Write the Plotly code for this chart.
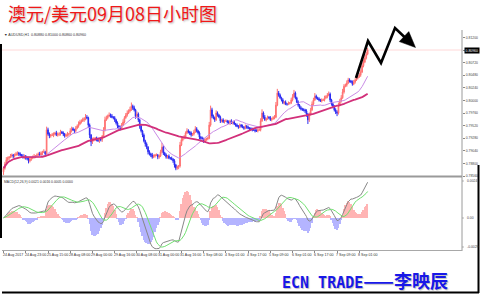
import numpy as np
import pandas as pd
import plotly.graph_objects as go

# ---------------- data ----------------
first_open = 0.7864
closes = [
    0.7871, 0.7879, 0.7887, 0.7890, 0.7892, 0.7894, 0.7896, 0.7894, 0.7896, 0.7898,
    0.7900, 0.7898, 0.7896, 0.7894, 0.7892, 0.7894, 0.7890, 0.7890, 0.7885, 0.7888,
    0.7890, 0.7892, 0.7894, 0.7894, 0.7896, 0.7898, 0.7896, 0.7900, 0.7902, 0.7902,
    0.7898, 0.7944, 0.7936, 0.7932, 0.7934, 0.7934, 0.7936, 0.7938, 0.7934, 0.7936,
    0.7936, 0.7940, 0.7938, 0.7936, 0.7932, 0.7934, 0.7936, 0.7936, 0.7942, 0.7946,
    0.7944, 0.7942, 0.7947, 0.7951, 0.7955, 0.7959, 0.7961, 0.7963, 0.7965, 0.7968,
    0.7967, 0.7953, 0.7934, 0.7921, 0.7925, 0.7927, 0.7928, 0.7925, 0.7923, 0.7927,
    0.7925, 0.7932, 0.7944, 0.7963, 0.7967, 0.7970, 0.7972, 0.7970, 0.7968, 0.7967,
    0.7963, 0.7957, 0.7951, 0.7949, 0.7947, 0.7953, 0.7959, 0.7967, 0.7972, 0.7976,
    0.7980, 0.7982, 0.7989, 0.7986, 0.7982, 0.7970, 0.7974, 0.7963, 0.7951, 0.7942,
    0.7934, 0.7923, 0.7917, 0.7911, 0.7902, 0.7898, 0.7896, 0.7892, 0.7894, 0.7896,
    0.7896, 0.7892, 0.7894, 0.7902, 0.7911, 0.7900, 0.7896, 0.7892, 0.7894, 0.7890,
    0.7890, 0.7888, 0.7885, 0.7877, 0.7871, 0.7873, 0.7875, 0.7915, 0.7925, 0.7928,
    0.7930, 0.7938, 0.7942, 0.7940, 0.7938, 0.7934, 0.7936, 0.7940, 0.7946, 0.7942,
    0.7938, 0.7930, 0.7928, 0.7927, 0.7923, 0.7925, 0.7927, 0.7928, 0.7953, 0.7982,
    0.7970, 0.7967, 0.7963, 0.7976, 0.7972, 0.7968, 0.7961, 0.7963, 0.7959, 0.7961,
    0.7961, 0.7959, 0.7957, 0.7961, 0.7957, 0.7959, 0.7955, 0.7953, 0.7951, 0.7949,
    0.7953, 0.7951, 0.7949, 0.7947, 0.7951, 0.7949, 0.7947, 0.7946, 0.7946, 0.7944,
    0.7944, 0.7942, 0.7942, 0.7944, 0.7944, 0.7961, 0.7976, 0.7968, 0.7963, 0.7965,
    0.7968, 0.7967, 0.7963, 0.7965, 0.7967, 0.7968, 0.7991, 0.8014, 0.8010, 0.8005,
    0.8001, 0.7995, 0.7997, 0.7993, 0.7993, 0.7995, 0.7995, 0.8001, 0.8007, 0.8014,
    0.8005, 0.7997, 0.7991, 0.7986, 0.7984, 0.7982, 0.7982, 0.7980, 0.7974, 0.7963,
    0.7974, 0.7982, 0.7993, 0.8001, 0.8008, 0.8005, 0.8003, 0.8001, 0.7999, 0.8001,
    0.8001, 0.8005, 0.8007, 0.8010, 0.8012, 0.8001, 0.7993, 0.7989, 0.7982, 0.7978,
    0.7976, 0.7991, 0.7999, 0.8005, 0.8016, 0.8027, 0.8029, 0.8033, 0.8039, 0.8037,
    0.8035, 0.8031, 0.8035, 0.8039, 0.8043, 0.8045, 0.8048, 0.8054, 0.8066, 0.8073,
    0.8081, 0.8088, 0.8096,
]
upper_wick_pips = [
    3, 4, 5, 3, 2, 4, 3, 2, 3, 4, 3, 2, 3, 2, 4, 3, 2, 3, 2, 3,
    2, 3, 4, 2, 3, 3, 4, 3, 2, 5, 2, 6, 4, 3, 2, 4, 3, 2, 4, 3,
    3, 4, 2, 3, 2, 3, 4, 2, 5, 4, 3, 2, 4, 3, 5, 4, 3, 4, 3, 6,
    4, 2, 3, 2, 4, 3, 2, 3, 4, 2, 3, 2, 5, 6, 4, 3, 5, 3, 4, 2,
    3, 2, 3, 2, 3, 4, 5, 3, 4, 5, 3, 6, 7, 3, 4, 2, 5, 3, 2, 3,
    2, 3, 2, 3, 2, 3, 2, 4, 3, 2, 3, 2, 3, 4, 8, 3, 2, 3, 2, 3,
    2, 3, 2, 3, 2, 3, 2, 6, 5, 3, 4, 3, 5, 3, 2, 3, 2, 4, 5, 3,
    2, 3, 2, 3, 2, 3, 2, 3, 6, 8, 4, 3, 2, 5, 3, 2, 3, 2, 3, 2,
    3, 2, 3, 2, 3, 2, 3, 2, 3, 2, 3, 2, 3, 2, 3, 2, 3, 2, 3, 2,
    3, 2, 3, 2, 3, 5, 7, 3, 4, 2, 3, 2, 3, 2, 3, 4, 6, 8, 4, 3,
    2, 3, 2, 3, 2, 3, 2, 4, 5, 6, 3, 2, 3, 2, 3, 2, 3, 2, 3, 2,
    3, 4, 5, 4, 6, 3, 2, 3, 2, 3, 2, 4, 3, 4, 5, 3, 2, 3, 2, 3,
    3, 5, 4, 5, 6, 4, 3, 5, 4, 3, 2, 3, 4, 3, 4, 3, 4, 5, 6, 5,
    6, 5, 4,
]
lower_wick_pips = [
    6, 3, 2, 3, 4, 2, 3, 4, 3, 2, 3, 4, 2, 3, 3, 4, 3, 4, 5, 3,
    3, 2, 3, 4, 2, 3, 2, 3, 4, 2, 5, 3, 3, 4, 3, 2, 4, 3, 2, 3,
    4, 3, 2, 4, 3, 2, 3, 4, 2, 3, 2, 4, 3, 2, 3, 2, 3, 2, 4, 3,
    3, 5, 6, 8, 4, 3, 4, 3, 2, 4, 3, 4, 2, 3, 2, 3, 2, 3, 2, 3,
    4, 3, 4, 5, 4, 3, 2, 3, 2, 3, 2, 3, 2, 4, 3, 5, 3, 4, 5, 3,
    4, 3, 5, 4, 5, 3, 4, 3, 2, 3, 2, 4, 3, 2, 3, 4, 2, 3, 3, 2,
    3, 2, 4, 5, 4, 3, 4, 3, 2, 3, 2, 3, 2, 3, 4, 3, 2, 3, 2, 3,
    3, 4, 3, 2, 4, 3, 2, 3, 2, 3, 4, 3, 4, 2, 3, 2, 4, 3, 2, 3,
    2, 3, 2, 4, 2, 3, 2, 3, 2, 3, 2, 3, 2, 3, 2, 3, 2, 3, 2, 3,
    2, 3, 2, 3, 2, 3, 2, 3, 2, 3, 2, 3, 2, 3, 2, 3, 2, 2, 3, 2,
    3, 2, 3, 2, 3, 2, 3, 2, 3, 2, 3, 2, 3, 2, 3, 2, 3, 4, 5, 8,
    4, 3, 2, 3, 2, 3, 2, 3, 2, 3, 2, 3, 2, 3, 2, 4, 3, 4, 3, 4,
    6, 3, 2, 3, 2, 3, 2, 3, 2, 3, 2, 3, 2, 3, 2, 3, 2, 3, 2, 3,
    2, 3, 2,
]
date_labels = [
    "24 Aug 2017", "24 Aug 23:00", "25 Aug 15:00", "28 Aug 08:00", "29 Aug 00:00",
    "29 Aug 16:00", "30 Aug 08:00", "31 Aug 00:00", "31 Aug 16:00", "1 Sep 08:00",
    "4 Sep 01:00", "4 Sep 17:00", "5 Sep 09:00", "6 Sep 01:00", "6 Sep 17:00",
    "7 Sep 09:00", "8 Sep 01:00",
]
bars_per_label = 16
price_ticks = [0.78560, 0.78800, 0.79040, 0.79280, 0.79520, 0.79760, 0.80000,
               0.80240, 0.80480, 0.80720, 0.80960, 0.81200]
macd_window_labels = ["0.0024", "0.00", "-0.0029"]
title_text = "澳元/美元09月08日小时图"
footer_ascii = "ECN TRADE"
footer_cjk = "——李映辰"
symbol = "AUDUSD,H1"

# ---------------- derived series ----------------
pip = 0.0001
c = pd.Series(closes, dtype=float)
o = c.shift(1).fillna(first_open)
h = np.maximum(o, c) + np.array(upper_wick_pips) * pip
l = np.minimum(o, c) - np.array(lower_wick_pips) * pip
x = np.arange(len(c))

ma_fast = c.rolling(20, min_periods=1).mean()
ma_slow = c.rolling(55, min_periods=1).mean()
ema12 = c.ewm(span=12, adjust=False).mean()
ema26 = c.ewm(span=26, adjust=False).mean()
macd = ema12 - ema26
signal = macd.rolling(9, min_periods=1).mean()
osma = macd - signal
hist = osma * 1.5

W, H = 480, 297
def PX(v):
    return v / W
def PY(v):
    return 1 - v / H

fig = go.Figure()

fig.add_trace(go.Candlestick(
    x=x, open=o, high=h, low=l, close=c, xaxis="x", yaxis="y",
    increasing=dict(line=dict(color="#FF7070", width=1), fillcolor="#FF8E8E"),
    decreasing=dict(line=dict(color="#2C2CF2", width=1), fillcolor="#2C2CF2"),
    whiskerwidth=0, showlegend=False, hoverinfo="skip",
))
fig.add_trace(go.Scatter(x=x, y=ma_fast, mode="lines", xaxis="x", yaxis="y",
                         line=dict(color="#C98BE6", width=1), showlegend=False, hoverinfo="skip"))
fig.add_trace(go.Scatter(x=x, y=ma_slow, mode="lines", xaxis="x", yaxis="y",
                         line=dict(color="#D2307A", width=1.8), showlegend=False, hoverinfo="skip"))

hist_colors = ["#FFB4B4" if v >= 0 else "#B4B4FF" for v in hist]
fig.add_trace(go.Bar(x=x, y=hist, xaxis="x2", yaxis="y2", width=1.0,
                     marker=dict(color=hist_colors, line=dict(width=0)),
                     showlegend=False, hoverinfo="skip"))
fig.add_trace(go.Scatter(x=x, y=macd, mode="lines", xaxis="x2", yaxis="y2",
                         line=dict(color="#878787", width=1), showlegend=False, hoverinfo="skip"))
fig.add_trace(go.Scatter(x=x, y=signal, mode="lines", xaxis="x2", yaxis="y2",
                         line=dict(color="#70E070", width=1), showlegend=False, hoverinfo="skip"))

xr = [-1.1, 329.9]
xdom = [PX(2), PX(462)]
macd_per_px = 0.0000588
fig.update_layout(
    width=W, height=H, margin=dict(l=0, r=0, t=0, b=0),
    paper_bgcolor="white", plot_bgcolor="white", bargap=0,
    xaxis=dict(domain=xdom, range=xr, anchor="y", showticklabels=False, showgrid=False,
               zeroline=False, showline=False, ticks="", rangeslider=dict(visible=False)),
    yaxis=dict(domain=[PY(177), PY(30)], range=[0.78541, 0.81341], side="right", anchor="x",
               tickvals=price_ticks, ticktext=[f"{v:.5f}" for v in price_ticks],
               ticks="outside", ticklen=2, tickcolor="#888", tickwidth=0.6,
               tickfont=dict(family="Liberation Sans", size=3.4, color="#444"),
               showgrid=False, zeroline=False, showline=False),
    xaxis2=dict(domain=xdom, range=xr, anchor="y2", matches="x",
                tickvals=[k * bars_per_label for k in range(len(date_labels))],
                showticklabels=False, ticks="outside", ticklen=2, tickcolor="#888", tickwidth=0.6,
                showgrid=False, zeroline=False, showline=False),
    yaxis2=dict(domain=[PY(250), PY(178)],
                range=[-(250 - 218) * macd_per_px, (218 - 178) * macd_per_px], anchor="x2",
                showticklabels=False, showgrid=False, zeroline=False, showline=False),
)

shapes = []
def pline(x0, y0, x1, y1, color, width):
    shapes.append(dict(type="line", xref="paper", yref="paper", x0=PX(x0), y0=PY(y0),
                       x1=PX(x1), y1=PY(y1), line=dict(color=color, width=width)))

# current price line
shapes.append(dict(type="line", xref="paper", yref="y", x0=PX(2), x1=PX(462),
                   y0=closes[-1], y1=closes[-1], line=dict(color="#FFD8D8", width=1), layer="below"))
pline(462, 30, 462, 251, "#9A9A9A", 1)
pline(2, 176.6, 462, 176.6, "#9A9A9A", 2)
pline(2, 250.5, 462, 250.5, "#A8A8A8", 1)
for yy in (181, 218, 247):
    pline(462, yy, 464, yy, "#888", 0.6)
# outer black frame
pline(1, 44, 1, 238, "#000000", 2)
pline(2, 292.5, 479, 292.5, "#000000", 2)
pline(478.5, 165, 478.5, 293, "#000000", 2)

# hand drawn arrow
pts = [(356, 78), (368, 41), (381, 63), (395, 28), (405, 37.5)]
path = "M " + " L ".join(f"{PX(a):.5f} {PY(b):.5f}" for a, b in pts)
shapes.append(dict(type="path", xref="paper", yref="paper", path=path,
                   line=dict(color="black", width=2.6)))
head = [(415.5, 47.5), (399.3, 41.6), (408.8, 31.6)]
hpath = "M " + " L ".join(f"{PX(a):.5f} {PY(b):.5f}" for a, b in head) + " Z"
shapes.append(dict(type="path", xref="paper", yref="paper", path=hpath,
                   line=dict(color="black", width=0.5), fillcolor="black"))
fig.update_layout(shapes=shapes)

ann = []
ann.append(dict(text=title_text, xref="paper", yref="paper", x=PX(6), y=PY(13),
                xanchor="left", yanchor="middle", showarrow=False,
                font=dict(family="Noto Sans CJK SC", size=18, color="#F01818",
                          shadow="1px 1px 2px #B8B8B8")))
ann.append(dict(text=f"▼ {symbol}  {o.iloc[-1]:.5f} {h.iloc[-1]:.5f} {l.iloc[-1]:.5f} {c.iloc[-1]:.5f}",
                xref="paper", yref="paper", x=PX(2), y=PY(35.5), xanchor="left", yanchor="middle",
                showarrow=False, font=dict(family="Liberation Sans", size=3.6, color="#333")))
ann.append(dict(text=f"{closes[-1]:.5f}", xref="paper", yref="y", x=PX(463.5), y=closes[-1],
                xanchor="left", yanchor="middle", showarrow=False, bgcolor="black", borderpad=0.6,
                font=dict(family="Liberation Sans", size=3.4, color="white")))
ann.append(dict(text=f"MACD(12,26,9) {macd.iloc[-1]:.4f} {signal.iloc[-1]:.4f} {osma.iloc[-1]:.4f} 0.0000",
                xref="paper", yref="paper", x=PX(2), y=PY(182), xanchor="left", yanchor="middle",
                showarrow=False, font=dict(family="Liberation Sans", size=3.4, color="#333")))
for yy, lab in zip((181, 218, 247), macd_window_labels):
    ann.append(dict(text=lab, xref="paper", yref="paper", x=PX(464.5), y=PY(yy), xanchor="left",
                    yanchor="middle", showarrow=False,
                    font=dict(family="Liberation Sans", size=3.4, color="#444")))
for k, lab in enumerate(date_labels):
    ann.append(dict(text=lab, xref="x2", yref="paper", x=k * bars_per_label, y=PY(254.5),
                    xanchor="left", yanchor="middle", xshift=-3, showarrow=False,
                    font=dict(family="Liberation Sans", size=3.6, color="#333")))
ann.append(dict(text=f"{footer_ascii}<span style='font-family:Noto Sans CJK SC;font-size:18px'>{footer_cjk}</span>",
                xref="paper", yref="paper", x=PX(280), y=PY(279.5), xanchor="left", yanchor="middle",
                showarrow=False,
                font=dict(family="DejaVu Sans Mono", size=15, color="#1818E8", weight="bold",
                          shadow="1px 1px 1px #C0C0C0")))
fig.update_layout(annotations=ann)

fig.write_html("out.html")
